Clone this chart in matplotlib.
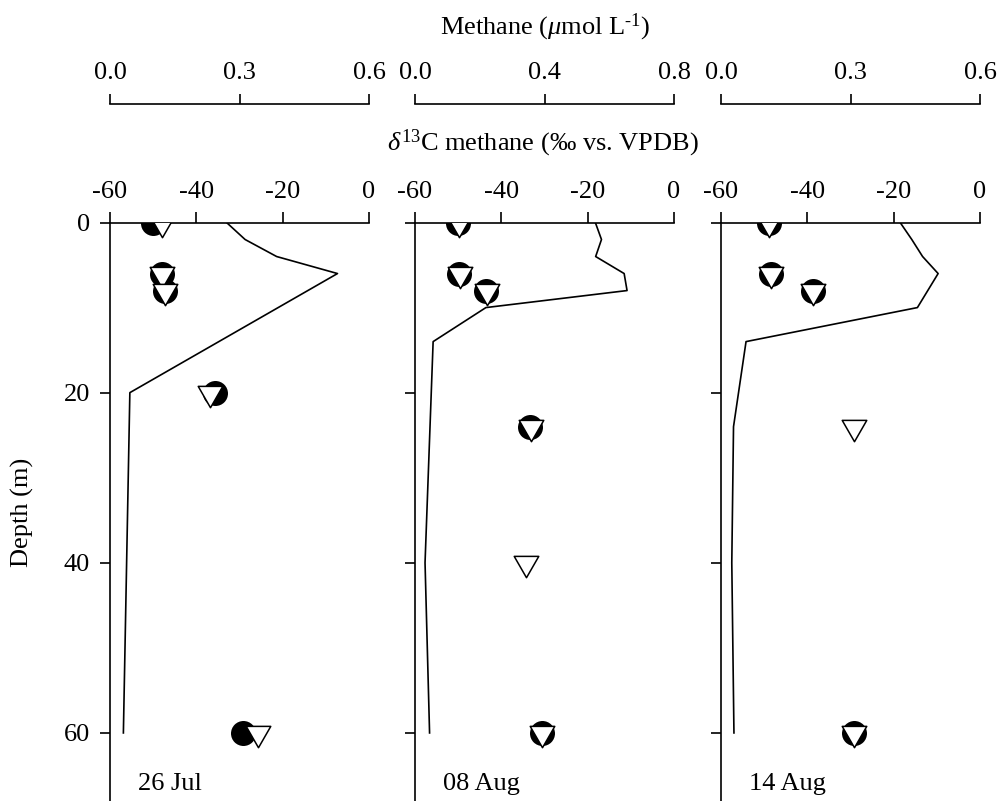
"""Methane concentration and d13C-CH4 depth profiles for three sampling dates."""

import numpy as np
import matplotlib
matplotlib.use("Agg")
import matplotlib.pyplot as plt
from matplotlib.path import Path
from matplotlib.transforms import blended_transform_factory

plt.rcParams["font.family"] = "Liberation Serif"
plt.rcParams["mathtext.fontset"] = "custom"
plt.rcParams["mathtext.rm"] = "Liberation Serif"
plt.rcParams["mathtext.it"] = "Liberation Serif:italic"
plt.rcParams["axes.unicode_minus"] = False
plt.rcParams["font.size"] = 19

# sampling dates
dates = ["26 Jul", "08 Aug", "14 Aug"]

# methane concentration axis (umol/L)
ch4_max = [0.6, 0.8, 0.6]
ch4_ticks = [[0.0, 0.3, 0.6], [0.0, 0.4, 0.8], [0.0, 0.3, 0.6]]
ch4_ticklabels = [["0.0", "0.3", "0.6"], ["0.0", "0.4", "0.8"], ["0.0", "0.3", "0.6"]]

# methane concentration profiles
ch4_depth_jul26 = [0, 2, 4, 6, 20, 60]
ch4_conc_jul26 = [0.270, 0.313, 0.386, 0.527, 0.046, 0.031]
ch4_depth_aug08 = [0, 2, 4, 6, 8, 10, 14, 40, 60]
ch4_conc_aug08 = [0.557, 0.576, 0.558, 0.646, 0.655, 0.219, 0.056, 0.031, 0.045]
ch4_depth_aug14 = [0, 2, 4, 6, 10, 14, 24, 40, 60]
ch4_conc_aug14 = [0.415, 0.442, 0.467, 0.503, 0.455, 0.058, 0.029, 0.025, 0.030]

# d13C of methane, filled circles
circ_depth_jul26 = [0, 6, 8, 20, 60]
circ_d13c_jul26 = [-50.0, -48.0, -47.3, -35.7, -29.1]
circ_depth_aug08 = [0, 6, 8, 24, 60]
circ_d13c_aug08 = [-50.0, -49.8, -43.6, -33.3, -30.6]
circ_depth_aug14 = [0, 6, 8, 60]
circ_d13c_aug14 = [-48.9, -48.5, -38.8, -29.2]

# d13C of methane, open triangles
tri_depth_jul26 = [0, 6, 8, 20, 60]
tri_d13c_jul26 = [-48.0, -48.0, -47.3, -36.9, -25.6]
tri_depth_aug08 = [0, 6, 8, 24, 40, 60]
tri_d13c_aug08 = [-49.9, -49.6, -43.4, -33.2, -34.2, -30.6]
tri_depth_aug14 = [0, 6, 8, 24, 60]
tri_d13c_aug14 = [-48.8, -48.4, -38.8, -29.1, -29.2]

ch4_depths = [ch4_depth_jul26, ch4_depth_aug08, ch4_depth_aug14]
ch4_concs = [ch4_conc_jul26, ch4_conc_aug08, ch4_conc_aug14]
circ_depths = [circ_depth_jul26, circ_depth_aug08, circ_depth_aug14]
circ_vals = [circ_d13c_jul26, circ_d13c_aug08, circ_d13c_aug14]
tri_depths = [tri_depth_jul26, tri_depth_aug08, tri_depth_aug14]
tri_vals = [tri_d13c_jul26, tri_d13c_aug08, tri_d13c_aug14]

# downward triangle centred on its centroid
tri_marker = Path(
    [(-1.15, 2 / 3), (1.15, 2 / 3), (0, -4 / 3), (-1.15, 2 / 3)],
    [Path.MOVETO, Path.LINETO, Path.LINETO, Path.CLOSEPOLY],
)

W, H = 1001, 801
fig = plt.figure(figsize=(W / 100, H / 100), dpi=100)

lefts = [110, 415, 721]
panel_w = 259
top_px = 222.5
lw = 1.2

for i in range(3):
    ax = fig.add_axes([lefts[i] / W, 0, panel_w / W, (H - top_px) / H])
    ax2 = ax.twiny()

    ax.set_xlim(-60, 0)
    ax.set_ylim(68, 0)
    ax.xaxis.tick_top()
    ax.set_xticks([-60, -40, -20, 0])
    ax.set_xticklabels(["-60", "-40", "-20", "0"])
    ax.set_yticks([0, 20, 40, 60])
    if i > 0:
        ax.set_yticklabels([])
    for s in ["bottom", "right"]:
        ax.spines[s].set_visible(False)
    for s in ["top", "left"]:
        ax.spines[s].set_linewidth(lw)
    ax.tick_params(axis="x", direction="out", length=8, width=lw, pad=6)
    ax.tick_params(axis="y", direction="out", length=7.5, width=lw, pad=7)

    # methane concentration axis floating above
    ax2.set_xlim(0, ch4_max[i])
    ax2.set_xticks(ch4_ticks[i])
    ax2.set_xticklabels(ch4_ticklabels[i])
    ax2.spines["top"].set_position(("outward", 85))
    ax2.spines["top"].set_linewidth(lw)
    for s in ["bottom", "left", "right"]:
        ax2.spines[s].set_visible(False)
    ax2.tick_params(axis="x", direction="out", length=7, width=lw, pad=8)

    ax.plot(circ_vals[i], circ_depths[i], ls="none", marker="o", ms=18,
            mfc="black", mec="black", mew=0, zorder=3)
    ax.plot(tri_vals[i], tri_depths[i], ls="none", marker=tri_marker, ms=20.5,
            mfc="white", mec="black", mew=1.1, zorder=4)
    ax2.plot(ch4_concs[i], ch4_depths[i], color="black", lw=1.2)

    trans = blended_transform_factory(ax.transAxes, ax.transData)
    ax.text(0.11, 66, dates[i], transform=trans, ha="left", va="center")

fig.text(22 / W, 1 - 512 / H, "Depth (m)", rotation=90, ha="center", va="center")
fig.text(545 / W, 1 - 27 / H, r"Methane ($\mu$mol L$^{\text{-1}}$)",
         ha="center", va="center")
fig.text(543 / W, 1 - 143 / H, r"$\delta^{13}$C methane (‰ vs. VPDB)",
         ha="center", va="center")

fig.savefig("out.png", dpi=100)
